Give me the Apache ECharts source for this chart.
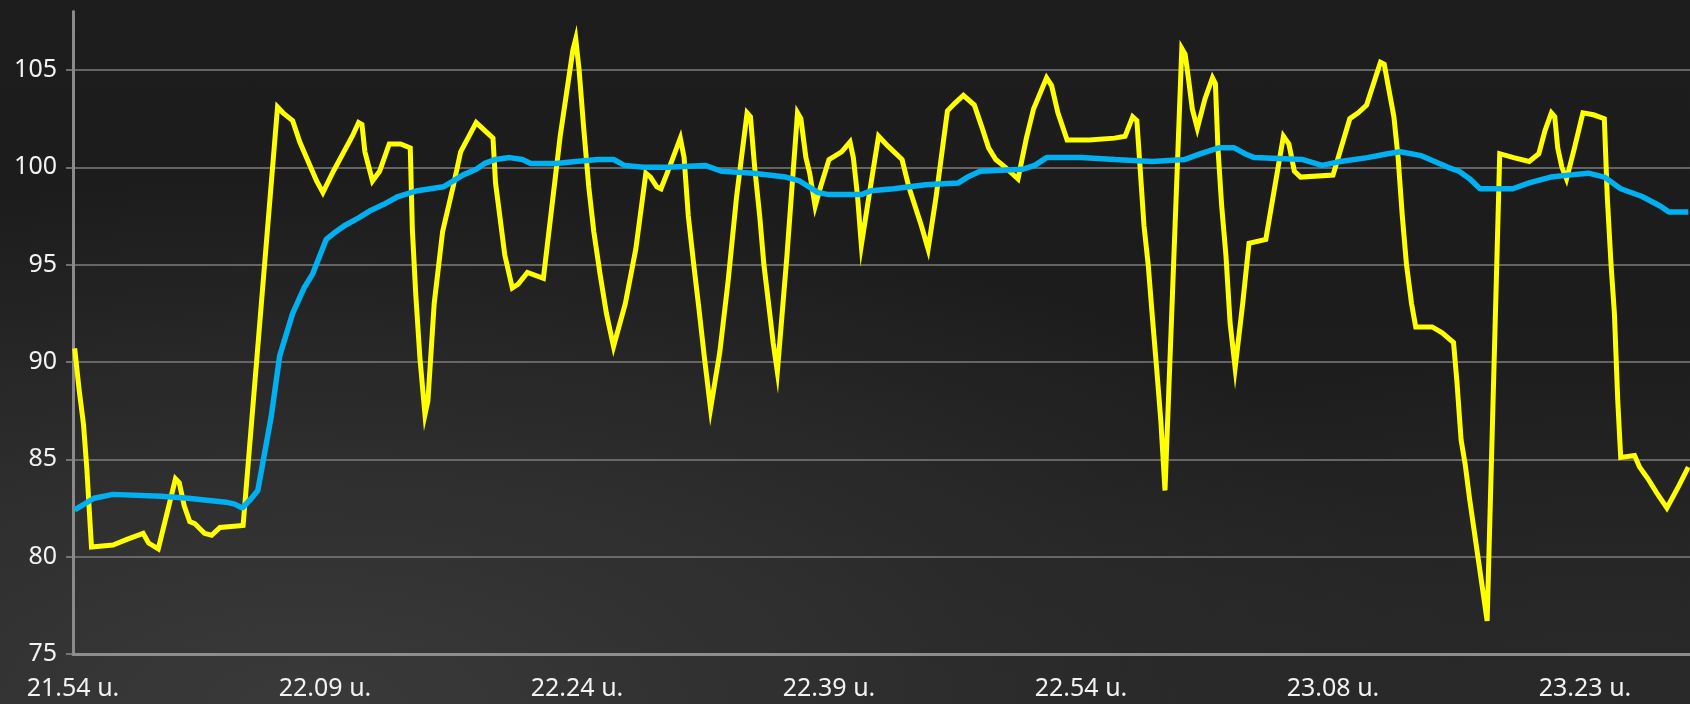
<!DOCTYPE html>
<html>
<head>
<meta charset="utf-8">
<script src="https://cdn.jsdelivr.net/npm/echarts@6/dist/echarts.min.js"></script>
<style>
html,body{margin:0;padding:0;}
#chart{width:1690px;height:704px;
background:
 radial-gradient(ellipse 70% 75% at 18% 100%, #3a3a3a 0%, #313131 35%, rgba(35,35,35,0) 100%),
 radial-gradient(ellipse 40% 50% at 95% 100%, #2a2a2a 0%, rgba(30,30,30,0) 100%),
 linear-gradient(180deg, #1d1d1d 0%, #1c1c1c 40%, #222222 100%);
}
</style>
</head>
<body>
<div id="chart"></div>
<script>
// x positions are sample indices; one time label every 60 samples
const timeLabels = ['21.54 u.', '22.09 u.', '22.24 u.', '22.39 u.', '22.54 u.', '23.08 u.', '23.23 u.'];
const yTicks = [75, 80, 85, 90, 95, 100, 105];

const yellowSeries = [
[0.4,90.7],[1.5,88.5],[2.5,86.8],[3.3,84.5],[3.9,82.3],[4.4,80.5],
[9.5,80.6],[13,80.9],[16.7,81.2],[18,80.7],[20.3,80.4],[24.4,84.0],[25.3,83.8],[26.5,82.6],[27.8,81.8],[29,81.7],[31.3,81.2],[33,81.1],[35,81.5],[40.5,81.6],
[48.7,103.1],[50,102.8],[52.3,102.4],[54,101.3],[56,100.3],[58,99.3],[59.5,98.7],[62,99.8],[66.5,101.6],[68,102.3],[68.8,102.2],[69.5,100.8],[71.3,99.3],[73,99.8],[75.3,101.2],[78,101.2],[80.3,101],[80.8,96.8],[81.6,93.5],[82.6,90.2],[83.8,87.3],[84.5,88],[86,93],[88,96.7],[90.5,99],[92.3,100.8],[96,102.3],[98,101.9],[100,101.5],[100.6,99.2],[101.5,97.7],[102.8,95.5],[104.6,93.8],[106,94],[108.2,94.6],[112,94.3],[116,101.6],[119,106],[119.7,106.6],[120.5,105],[121.6,102],[122.8,99],[124,96.7],[125.5,94.5],[127,92.5],[128.7,90.8],[131.5,93],[134,95.8],[136.4,99.7],[137.5,99.5],[139,99],[140,98.9],[142,100],[144.6,101.5],[145.5,100.5],[146.5,97.5],[147.8,95],[149,92.8],[150.3,90.3],[151.8,87.6],[154,90.5],[156,94.2],[158,98.5],[160.5,102.8],[161.3,102.6],[162.3,100],[163.5,97.5],[164.5,95],[165.5,93.2],[166.7,91],[167.7,89.5],
[170,95.5],[172.5,102.8],[173.3,102.5],[174.5,100.5],[175.4,99.7],[176.7,98],[178,99],[180,100.4],[183,100.8],[185,101.3],[185.8,100.5],[186.8,98.5],[187.7,96],[189.5,98.5],[191.8,101.6],[194,101.1],[197.4,100.4],[199,99],[200.5,98],[202,97],[203.6,95.8],[205.5,98.5],[208.2,102.9],[210,103.3],[212,103.7],[214.6,103.2],[216.5,102],[218,101],[219.7,100.4],[222,100],[225,99.4],[227,101.5],[228.7,103],[231.8,104.6],[233,104.2],[234.5,102.8],[236.7,101.4],[242,101.4],[248,101.5],[250.5,101.6],[252.3,102.6],[253.3,102.4],[254,100.2],[255,97],[256,95],[257,92.3],[258,89.7],[259,87],[260,83.4],
[264,106.1],[264.8,105.8],[265.5,104.7],[266.5,103],[267.7,102],[269.5,103.5],[271.3,104.6],[272,104.3],[272.6,101],[273.5,98],[274.5,95.5],[275.5,92],[276.7,89.7],[278.5,93],[280,96.1],[284,96.3],[288.2,101.6],[289.5,101.2],[290.8,99.8],[292.3,99.5],[300,99.6],[304,102.5],[306,102.8],[308,103.2],[311.3,105.4],[312.2,105.3],[313.3,104],[314.5,102.6],[315.5,100.5],[316.5,97.5],[317.5,95],[318.7,93],[319.7,91.8],[323.6,91.8],[326,91.5],[328.7,91],[329.5,89],[330.5,86],[331.5,84.7],[332.5,83],[333.5,81.5],[334.5,80],[335.5,78.5],[336.7,76.7],
[339.7,100.7],[343,100.5],[346.7,100.3],[349,100.7],[350.5,101.9],[352,102.8],[352.8,102.6],[353.5,101],[354.5,100],[355.6,99.4],[357.5,101],[359.5,102.8],[362,102.7],[364.6,102.5],[365.3,98.5],[366.2,95],[367,92.5],[367.8,88],[368.5,85.1],[371.8,85.2],[373,84.6],[375,84],[377,83.3],[379.5,82.5],[382,83.5],[384.6,84.6]
];

const blueSeries = [
[0.4,82.4],[5,83],[9.5,83.2],[21,83.1],[27.4,83],[36.4,82.8],[38.5,82.7],[40.3,82.5],[42.5,83],[44,83.4],[47.2,87.2],[49.2,90.3],[52.3,92.5],[55,93.8],[57,94.5],[60.3,96.3],[62,96.6],[64.6,97],[68,97.4],[71,97.8],[74,98.1],[77.4,98.5],[82,98.8],[88.2,99],[92.8,99.6],[96,99.9],[98,100.2],[100.5,100.4],[104,100.5],[107,100.4],[109,100.2],[115,100.2],[119.7,100.3],[125,100.4],[128.7,100.4],[131.3,100.1],[136,100],[141.5,100],[150.5,100.1],[154.4,99.8],[162,99.7],[169.7,99.5],[173,99.3],[177.4,98.7],[180,98.6],[187.7,98.6],[190,98.8],[195.4,98.9],[203,99.1],[210.8,99.2],[213,99.5],[216,99.8],[226,99.9],[229,100.1],[231.8,100.5],[240,100.5],[248,100.4],[257,100.3],[264.6,100.4],[268.5,100.7],[272.8,101],[276.5,101],[279,100.7],[281.3,100.5],[292.8,100.4],[297.4,100.1],[301.8,100.3],[308.2,100.5],[313,100.7],[316,100.8],[321,100.6],[327.4,100],[330,99.8],[332.6,99.4],[335,98.9],[342.8,98.9],[346.7,99.2],[351.8,99.5],[356,99.6],[360.8,99.7],[364.6,99.5],[368.5,98.9],[373.6,98.5],[378,98],[380,97.7],[384.6,97.7]
];

const chart = echarts.init(document.getElementById('chart'), null, {renderer: 'canvas'});
const labelFont = {color: '#f2f2f2', fontFamily: 'Noto Sans', fontSize: 25};
chart.setOption({
  backgroundColor: 'transparent',
  animation: false,
  grid: {left: 73, right: 0, top: 11.6, bottom: 50, containLabel: false},
  xAxis: {
    type: 'value', min: 0, max: 385, interval: 60,
    axisLine: {show: true, onZero: false, lineStyle: {color: '#8e8e8e', width: 3}},
    axisTick: {show: false},
    splitLine: {show: false},
    axisLabel: Object.assign({
      margin: 22, showMaxLabel: false,
      formatter: function (v) { return v % 60 === 0 ? (timeLabels[v / 60] || '') : ''; }
    }, labelFont)
  },
  yAxis: {
    type: 'value', min: 75, max: 108, interval: 5,
    axisLine: {show: true, lineStyle: {color: '#8a8a8a', width: 3}},
    axisTick: {show: true, length: 7, customValues: yTicks, lineStyle: {color: '#8a8a8a', width: 1.5}},
    splitLine: {show: true, showMinLine: false, lineStyle: {color: '#7c7c7c', width: 1.5}},
    axisLabel: Object.assign({margin: 16, customValues: yTicks,
      formatter: function (v) { return v % 5 === 0 ? String(v) : ''; }}, labelFont)
  },
  series: [
    {type: 'line', data: yellowSeries, showSymbol: false, symbol: 'none', z: 3,
     lineStyle: {color: '#ffff00', width: 5, join: 'miter'}},
    {type: 'line', data: blueSeries, showSymbol: false, symbol: 'none', z: 4,
     lineStyle: {color: '#00b0f0', width: 5.5}}
  ]
});
</script>
</body>
</html>
